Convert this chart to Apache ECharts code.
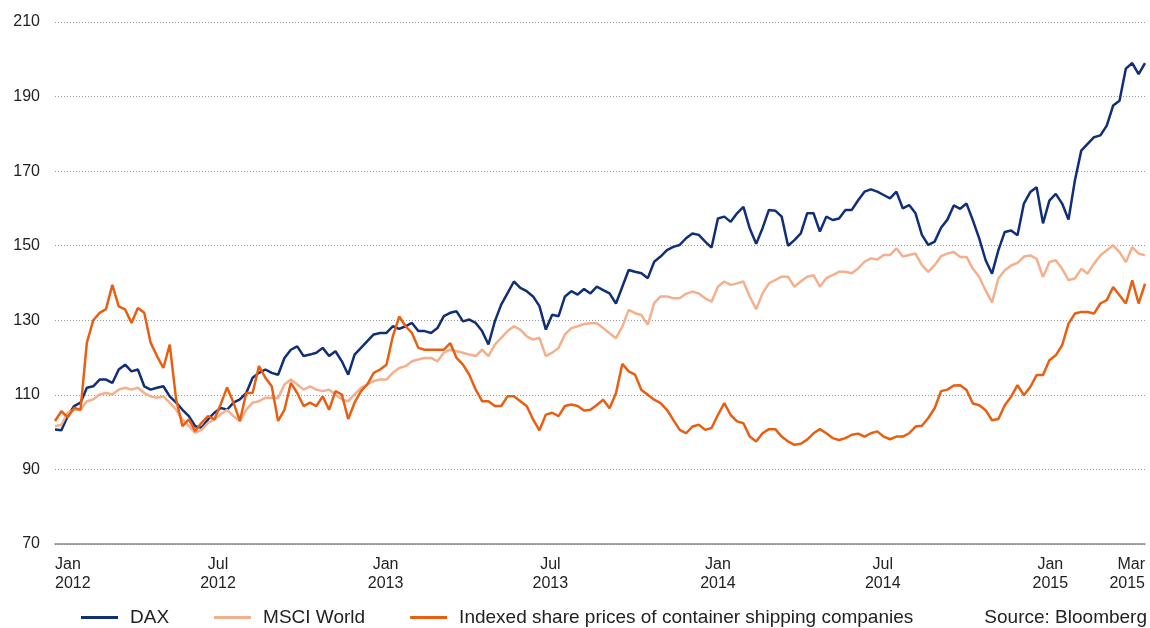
<!DOCTYPE html>
<html>
<head>
<meta charset="utf-8">
<script src="https://cdn.jsdelivr.net/npm/echarts@6/dist/echarts.min.js"></script>
<style>
  html, body { margin: 0; padding: 0; background: #fff; }
  #container { width: 1150px; height: 628px; }
</style>
</head>
<body>
<div id="container"></div>
<script>
// weekly readings, first week starting 4 Jan 2012; x is counted in days since 1 Jan 2012
const dayMs = 24 * 3600 * 1000;
const origin = Date.UTC(2012, 0, 1);
const startDay = (Date.UTC(2012, 0, 4) - origin) / dayMs;

const dax = [
    100.7, 100.5, 104.3, 107, 107.9, 111.9, 112.3, 114.1, 114.1, 113.2,
    116.8, 118.1, 116.3, 116.8, 112.3, 111.4, 111.9, 112.3, 109.6, 107.9,
    106, 104.3, 101.6, 101.2, 103.4, 105.2, 106.5, 106, 107.9, 108.8,
    110.5, 114.6, 115.9, 116.8, 115.9, 115.4, 119.9, 122.1, 123, 120.4,
    120.8, 121.3, 122.6, 120.4, 121.7, 119, 115.4, 120.8, 122.6, 124.4,
    126.2, 126.6, 126.6, 128.4, 127.7, 128.4, 129.3, 127.1, 127.1, 126.6,
    127.9, 131.1, 132, 132.4, 129.7, 130.2, 129.3, 127.1, 123.5, 129.7,
    134.2, 137.3, 140.4, 138.7, 137.8, 136.4, 133.8, 127.5, 131.5, 131.1,
    136.4, 137.8, 136.9, 138.4, 137.2, 139, 138.1, 137.2, 134.5, 139,
    143.5, 143, 142.6, 141.3, 145.7, 147.1, 148.8, 149.7, 150.2, 152,
    153.3, 152.9, 151.1, 149.5, 157.3, 157.8, 156.4, 158.7, 160.4, 154.6,
    150.5, 154.7, 159.6, 159.4, 157.8, 150, 151.5, 153.3, 158.7, 158.7,
    153.8, 157.8, 156.9, 157.3, 159.6, 159.6, 162.2, 164.5, 165.1, 164.5,
    163.6, 162.7, 164.5, 160, 160.9, 158.7, 152.9, 150.2, 151.1, 154.8,
    157, 160.8, 159.9, 161.3, 156.8, 151.9, 146.1, 142.5, 148.8, 153.7,
    154.1, 152.8, 161.3, 164.4, 165.7, 156, 162.1, 163.9, 161.3, 157,
    167.5, 175.5, 177.3, 179.1, 179.6, 182.2, 187.6, 188.9, 197.5, 199,
    196, 199
];

const msci = [
    101.6, 102, 105.2, 106, 106, 108.3, 108.8, 110.1, 110.5, 110.1,
    111.4, 111.9, 111.4, 111.9, 110.5, 109.6, 109.2, 109.6, 107.9, 106,
    103.4, 101.6, 99.8, 100.7, 102.5, 103.4, 104.8, 106, 104.3, 102.9,
    106, 107.9, 108.3, 109.2, 109.2, 109.2, 112.8, 114.1, 112.8, 111.4,
    112.3, 111.4, 111, 111.4, 110.1, 108.8, 108.3, 110.1, 111.9, 112.8,
    113.7, 114.1, 114.1, 115.9, 117.2, 117.7, 119, 119.5, 119.9, 119.9,
    119, 121.3, 122.1, 121.7, 121.3, 120.8, 120.4, 122.1, 120.4, 123.5,
    125.3, 127.1, 128.4, 127.5, 125.7, 124.8, 125.3, 120.4, 121.3, 122.6,
    126.2, 127.9, 128.4, 129, 129.2, 129.2, 127.9, 126.5, 125.2, 128.3,
    132.8, 131.9, 131.4, 128.8, 134.6, 136.4, 136.4, 135.9, 135.9, 137.1,
    137.7, 137.2, 135.9, 135, 139, 140.4, 139.5, 139.9, 140.4, 136.3,
    133, 137.2, 139.9, 140.8, 141.7, 141.7, 139, 140.4, 141.7, 142.1,
    139, 141.3, 142.1, 143, 143, 142.6, 143.9, 145.7, 146.6, 146.3,
    147.5, 147.5, 149.3, 147.1, 147.5, 147.9, 144.8, 143, 144.8, 147.2,
    147.9, 148.3, 147, 147, 143.8, 141.6, 138, 134.8, 141.2, 143.4,
    144.7, 145.4, 147.1, 147.4, 146.5, 141.6, 145.6, 146.1, 143.8, 140.8,
    141.2, 143.8, 142.5, 145.2, 147.4, 148.8, 150.1, 148.3, 145.6, 149.6,
    147.9, 147.4
];

const shipping = [
    103, 105.6, 104, 106.5, 106, 124, 130, 132, 133, 139.5,
    133.7, 132.9, 129.3, 133.3, 132, 124, 120.4, 117.2, 123.5, 108.8,
    101.6, 103.4, 100.3, 102.5, 104.3, 103.4, 107.5, 112, 107.9, 103,
    110.5, 110.5, 117.7, 114.6, 112.3, 103, 106, 113.2, 110.5, 107,
    107.9, 107, 109.6, 106, 111, 110.1, 103.5, 107.9, 111, 112.8,
    115.9, 116.8, 118.1, 125.7, 131, 128.4, 126.6, 122.6, 122.1, 122.1,
    122.1, 122.1, 123.9, 119.9, 118.1, 115.4, 111.4, 108.3, 108.3, 107,
    107, 109.6, 109.6, 108.3, 107, 103.4, 100.5, 104.7, 105.2, 104.3,
    107, 107.4, 107, 105.8, 106, 107.3, 108.7, 106.4, 110.4, 118.3,
    116.3, 115.4, 111.3, 110, 108.7, 107.8, 106, 103.3, 100.6, 99.7,
    101.5, 102, 100.6, 101.1, 104.6, 107.8, 104.6, 102.9, 102.4, 98.8,
    97.5, 99.7, 100.8, 100.8, 98.8, 97.5, 96.6, 96.9, 98, 99.7,
    100.8, 99.7, 98.4, 97.9, 98.4, 99.3, 99.6, 98.8, 99.7, 100.2,
    98.8, 98.1, 98.8, 98.8, 99.7, 101.5, 101.7, 103.8, 106.4, 111,
    111.4, 112.5, 112.6, 111.3, 107.7, 107.2, 105.9, 103.2, 103.5, 107.2,
    109.5, 112.6, 109.9, 112.1, 115.3, 115.3, 119.3, 120.6, 123.3, 129.1,
    131.8, 132.2, 132.2, 131.8, 134.5, 135.4, 138.9, 136.7, 134.5, 140.7,
    134.5, 139.8
];

const days = dax.map((v, i) => startDay + i * 7);
const firstDay = days[0];
const lastDay = days[days.length - 1];

function dayOf(y, m) {
    return (Date.UTC(y, m, 1) - origin) / dayMs;
}

const tickDays = [firstDay, dayOf(2012, 6), dayOf(2013, 0), dayOf(2013, 6),
    dayOf(2014, 0), dayOf(2014, 6), dayOf(2015, 0), lastDay];
const tickLabels = ['Jan\n2012', 'Jul\n2012', 'Jan\n2013', 'Jul\n2013',
    'Jan\n2014', 'Jul\n2014', 'Jan\n2015', 'Mar\n2015'];

const seriesNames = ['DAX', 'MSCI World', 'Indexed share prices of container shipping companies'];
const seriesColors = ['#102f78', '#f4b08c', '#e95f12'];

function pairs(values) {
    return values.map((v, i) => [days[i], v]);
}

const chart = echarts.init(document.getElementById('container'), null, { renderer: 'canvas' });
const font = 'Liberation Sans, Arial, sans-serif';

const option = {
    animation: false,
    textStyle: { fontFamily: font },
    grid: { left: 55, right: 5, top: 22, bottom: 84 },
    legend: {
        data: seriesNames,
        left: 76,
        top: 603,
        icon: 'rect',
        itemWidth: 37,
        itemHeight: 3,
        itemGap: 45,
        selectedMode: false,
        textStyle: { fontSize: 19, color: '#222', fontFamily: font, padding: [0, 0, 0, 7] }
    },
    graphic: [{
        type: 'text',
        right: 3,
        top: 608,
        style: { text: 'Source: Bloomberg', fontSize: 19, fill: '#222', fontFamily: font }
    }],
    xAxis: {
        type: 'value',
        min: firstDay,
        max: lastDay,
        axisLine: { show: true, onZero: false, lineStyle: { color: '#888', width: 1.5 } },
        axisTick: { show: false },
        splitLine: { show: false },
        axisLabel: {
            customValues: tickDays,
            alignMinLabel: 'left',
            alignMaxLabel: 'right',
            margin: 11,
            fontSize: 16,
            lineHeight: 19,
            color: '#222',
            fontFamily: font,
            formatter(value) {
                const idx = tickDays.indexOf(value);
                return idx >= 0 ? tickLabels[idx] : '';
            }
        }
    },
    yAxis: {
        type: 'value',
        min: 70,
        max: 210,
        interval: 20,
        axisLine: { show: false },
        axisTick: { show: false },
        axisLabel: { margin: 15, fontSize: 16, color: '#222', fontFamily: font },
        splitLine: { lineStyle: { color: '#999', type: [1, 2], width: 1 } }
    },
    series: seriesNames.map((name, i) => ({
        name: name,
        type: 'line',
        showSymbol: false,
        data: pairs([dax, msci, shipping][i]),
        lineStyle: { color: seriesColors[i], width: 2.5 },
        itemStyle: { color: seriesColors[i] }
    }))
};

chart.setOption(option);
</script>
</body>
</html>
